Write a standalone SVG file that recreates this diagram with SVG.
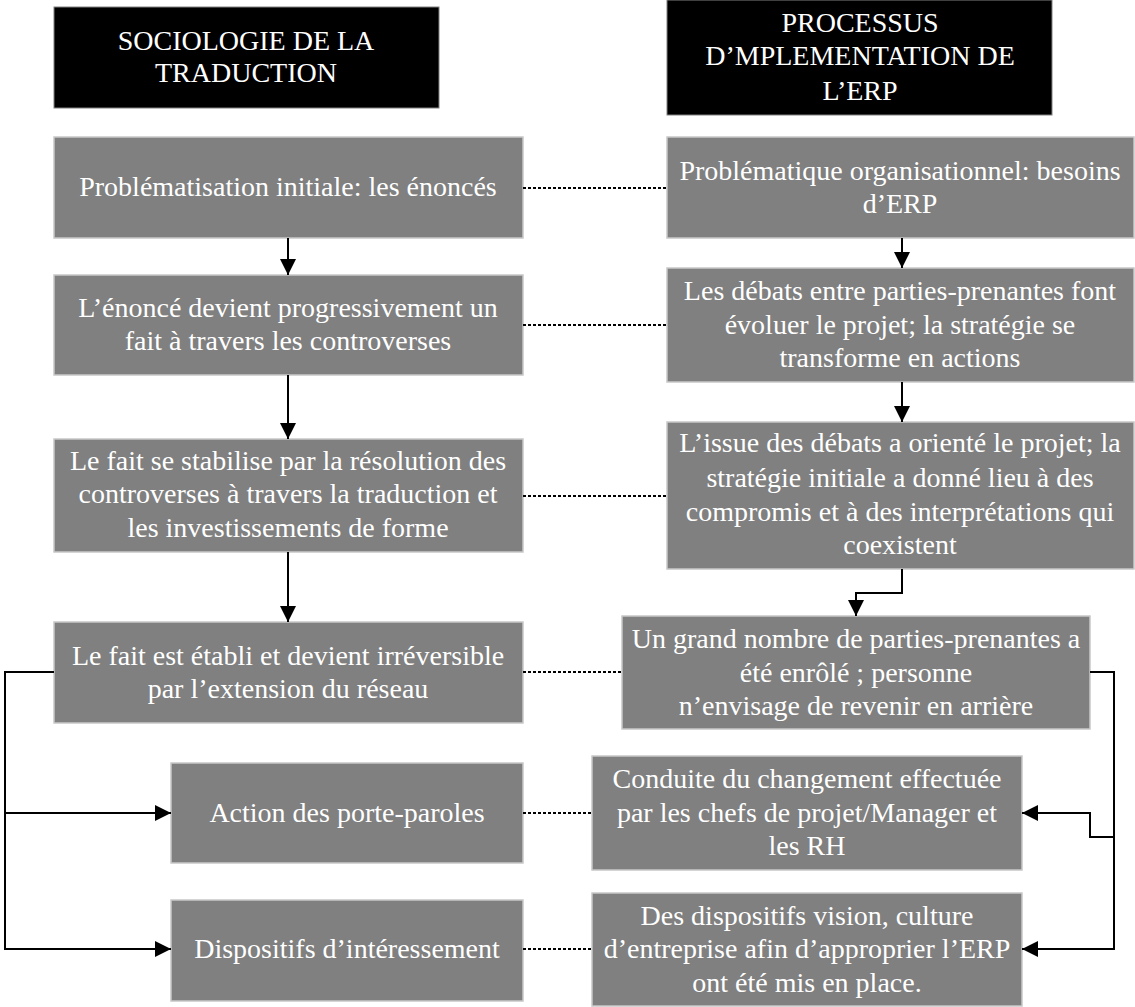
<svg xmlns="http://www.w3.org/2000/svg" width="1135" height="1007" viewBox="0 0 1135 1007">
<defs>
<style>
.hdr{fill:#000;stroke:#808080;stroke-width:1}
.box{fill:#808080;stroke:#c8c8c8;stroke-width:1.5}
.t{font-family:"Liberation Serif","Times New Roman",serif;font-size:28px;fill:#fff;text-anchor:middle}
.ln{fill:none;stroke:#000;stroke-width:2}
.dot{fill:none;stroke:#000;stroke-width:2;stroke-dasharray:3 2}
</style>
<marker id="ah" viewBox="0 0 16 16" refX="16" refY="8" markerWidth="16" markerHeight="16" markerUnits="userSpaceOnUse" orient="auto">
<path d="M0,0 L16,8 L0,16 z" fill="#000"/>
</marker>
</defs>
<rect width="1135" height="1007" fill="#fff"/>

<g id="hdr-left">
<rect class="hdr" x="54" y="7" width="385" height="101"/>
<text class="t" x="246" y="50">SOCIOLOGIE DE LA</text>
<text class="t" x="246" y="82">TRADUCTION</text>
</g>
<g id="hdr-right">
<rect class="hdr" x="667" y="0" width="385" height="115"/>
<text class="t" x="860" y="32">PROCESSUS</text>
<text class="t" x="860" y="65">D’MPLEMENTATION DE</text>
<text class="t" x="860" y="100">L’ERP</text>
</g>

<g id="L1">
<rect class="box" x="54" y="137" width="469" height="101"/>
<text class="t" x="288" y="196">Problématisation initiale: les énoncés</text>
</g>
<g id="L2">
<rect class="box" x="54" y="275" width="469" height="100"/>
<text class="t" x="288" y="317">L’énoncé devient progressivement un</text>
<text class="t" x="288" y="350">fait à travers les controverses</text>
</g>
<g id="L3">
<rect class="box" x="54" y="439" width="469" height="113"/>
<text class="t" x="288" y="470">Le fait se stabilise par la résolution des</text>
<text class="t" x="288" y="503">controverses à travers la traduction et</text>
<text class="t" x="288" y="537">les investissements de forme</text>
</g>
<g id="L4">
<rect class="box" x="54" y="622" width="469" height="101"/>
<text class="t" x="288" y="665">Le fait est établi et devient irréversible</text>
<text class="t" x="288" y="698">par l’extension du réseau</text>
</g>
<g id="L5">
<rect class="box" x="171" y="763" width="352" height="100"/>
<text class="t" x="347" y="822">Action des porte-paroles</text>
</g>
<g id="L6">
<rect class="box" x="171" y="900" width="352" height="101"/>
<text class="t" x="347" y="958">Dispositifs d’intéressement</text>
</g>

<g id="R1">
<rect class="box" x="667" y="137" width="467" height="101"/>
<text class="t" x="900" y="180">Problématique organisationnel: besoins</text>
<text class="t" x="900" y="213">d’ERP</text>
</g>
<g id="R2">
<rect class="box" x="667" y="268" width="467" height="114"/>
<text class="t" x="900" y="300">Les débats entre parties-prenantes font</text>
<text class="t" x="900" y="334">évoluer le projet; la stratégie se</text>
<text class="t" x="900" y="367">transforme en actions</text>
</g>
<g id="R3">
<rect class="box" x="667" y="422" width="467" height="147"/>
<text class="t" x="900" y="452">L’issue des débats a orienté le projet; la</text>
<text class="t" x="900" y="487">stratégie initiale a donné lieu à des</text>
<text class="t" x="900" y="521">compromis et à des interprétations qui</text>
<text class="t" x="900" y="554">coexistent</text>
</g>
<g id="R4">
<rect class="box" x="622" y="616" width="468" height="113"/>
<text class="t" x="856" y="648">Un grand nombre de parties-prenantes a</text>
<text class="t" x="856" y="682">été enrôlé ; personne</text>
<text class="t" x="856" y="715">n’envisage de revenir en arrière</text>
</g>
<g id="R5">
<rect class="box" x="592" y="756" width="430" height="114"/>
<text class="t" x="807" y="788">Conduite du changement effectuée</text>
<text class="t" x="807" y="822">par les chefs de projet/Manager et</text>
<text class="t" x="807" y="855">les RH</text>
</g>
<g id="R6">
<rect class="box" x="592" y="893" width="430" height="113"/>
<text class="t" x="807" y="925">Des dispositifs vision, culture</text>
<text class="t" x="807" y="958">d’entreprise afin d’approprier l’ERP</text>
<text class="t" x="807" y="992">ont été mis en place.</text>
</g>

<g id="connectors">
<line class="ln" x1="288" y1="238" x2="288" y2="275" marker-end="url(#ah)"/>
<line class="ln" x1="288" y1="375" x2="288" y2="439" marker-end="url(#ah)"/>
<line class="ln" x1="288" y1="552" x2="288" y2="622" marker-end="url(#ah)"/>
<line class="ln" x1="902" y1="238" x2="902" y2="268" marker-end="url(#ah)"/>
<line class="ln" x1="902" y1="382" x2="902" y2="422" marker-end="url(#ah)"/>
<polyline class="ln" points="902,569 902,593 856,593 856,616" marker-end="url(#ah)"/>
<polyline class="ln" points="54,672 5,672 5,949 171,949" marker-end="url(#ah)"/>
<line class="ln" x1="5" y1="813" x2="171" y2="813" marker-end="url(#ah)"/>
<polyline class="ln" points="1090,672 1114,672 1114,949 1022,949" marker-end="url(#ah)"/>
<polyline class="ln" points="1114,837 1090,837 1090,813 1022,813" marker-end="url(#ah)"/>
<line class="dot" x1="523" y1="188" x2="667" y2="188"/>
<line class="dot" x1="523" y1="325" x2="667" y2="325"/>
<line class="dot" x1="523" y1="496" x2="667" y2="496"/>
<line class="dot" x1="523" y1="672" x2="622" y2="672"/>
<line class="dot" x1="523" y1="813" x2="592" y2="813"/>
<line class="dot" x1="523" y1="949" x2="592" y2="949"/>
</g>
</svg>
